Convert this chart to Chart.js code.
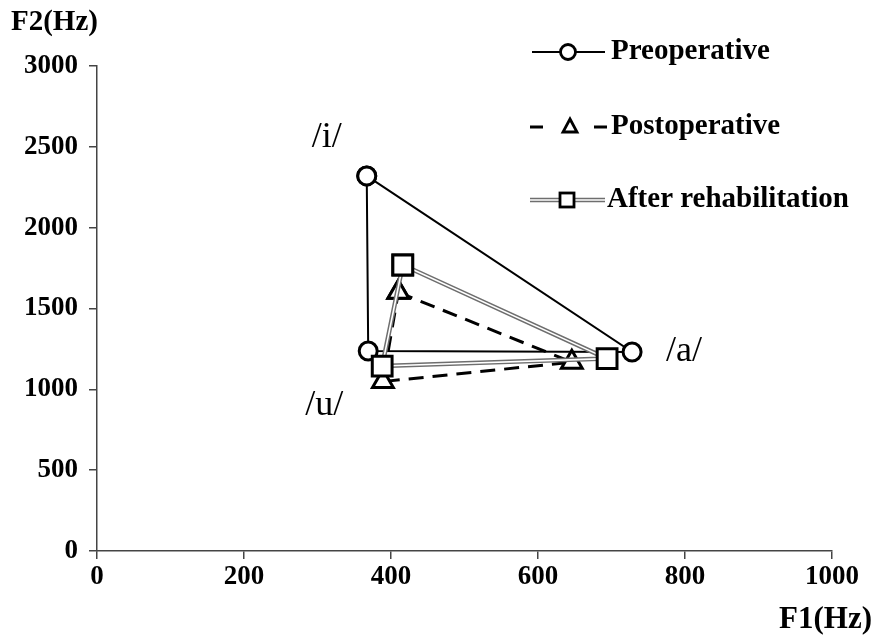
<!DOCTYPE html>
<html lang="en">
<head>
    <meta charset="UTF-8">
    <title>Vowel triangle F1/F2</title>
    <script src="https://cdn.jsdelivr.net/npm/chart.js"></script>
    <style>
        body { margin: 0; background: #fff; }
        #wrap { width: 877px; height: 644px; position: relative; }
    </style>
</head>
<body>
    <div id="wrap"><canvas id="vowelChart"></canvas></div>

    <script>
        // vowel order: /i/, /a/, /u/
        const vowels = ['/i/', '/a/', '/u/'];
        const preF1 = [367, 728, 369];
        const preF2 = [2320, 1231, 1237];
        const postF1 = [410, 646, 389];
        const postF2 = [1600, 1168, 1048];
        const rehabF1 = [416, 694, 388];
        const rehabF2 = [1769, 1190, 1144];
        const xTicks = [0, 200, 400, 600, 800, 1000];
        const yTicks = [0, 500, 1000, 1500, 2000, 2500, 3000];

        const serif = '"Liberation Serif", "Times New Roman", serif';

        // closed triangle i -> a -> u -> i
        function tri(f1, f2) {
            let pts = f1.map((x, i) => ({ x: x, y: f2[i] }));
            pts.push(pts[0]);
            return pts;
        }

        const doubleLine = {
            id: 'doubleLine',
            beforeDatasetDraw(chart, args) {
                if (chart.data.datasets[args.index].label !== 'After rehabilitation') return;
                let pts = args.meta.data;
                let ctx = chart.ctx;
                ctx.save();
                ctx.lineJoin = 'round';
                [['#6e6e6e', 4.5], ['#ffffff', 1.6]].forEach(([c, w]) => {
                    ctx.beginPath();
                    pts.forEach((p, i) => i ? ctx.lineTo(p.x, p.y) : ctx.moveTo(p.x, p.y));
                    ctx.strokeStyle = c;
                    ctx.lineWidth = w;
                    ctx.stroke();
                });
                ctx.restore();
            }
        };

        const extras = {
            id: 'extras',
            afterDraw(chart) {
                let ctx = chart.ctx;
                let xs = chart.scales.x, ys = chart.scales.y;
                ctx.save();
                ctx.fillStyle = '#000';

                // axis titles
                ctx.textBaseline = 'middle';
                ctx.textAlign = 'left';
                ctx.font = 'bold 29px ' + serif;
                ctx.fillText('F2(Hz)', 11, 23);
                ctx.textAlign = 'right';
                ctx.font = 'bold 31px ' + serif;
                ctx.fillText('F1(Hz)', 872, 620);

                // vowel labels next to the preoperative points
                let offs = [[-40, -38], [52, 0], [-44, 55]];
                ctx.font = '36px ' + serif;
                ctx.textAlign = 'center';
                vowels.forEach((v, i) => {
                    ctx.fillText(v, xs.getPixelForValue(preF1[i]) + offs[i][0],
                                    ys.getPixelForValue(preF2[i]) + offs[i][1]);
                });

                // legend
                ctx.strokeStyle = '#000';
                // preoperative
                ctx.lineWidth = 2;
                ctx.beginPath(); ctx.moveTo(532, 52); ctx.lineTo(605, 52); ctx.stroke();
                ctx.beginPath(); ctx.arc(568, 52, 7.5, 0, Math.PI * 2);
                ctx.fillStyle = '#fff'; ctx.fill();
                ctx.lineWidth = 2.8; ctx.stroke();
                // postoperative
                ctx.lineWidth = 3;
                ctx.beginPath(); ctx.moveTo(530, 127); ctx.lineTo(543, 127);
                ctx.moveTo(594, 127); ctx.lineTo(607, 127); ctx.stroke();
                ctx.beginPath();
                ctx.moveTo(570, 119); ctx.lineTo(577, 132); ctx.lineTo(563, 132); ctx.closePath();
                ctx.fillStyle = '#fff'; ctx.fill();
                ctx.lineWidth = 2.8; ctx.stroke();
                // after rehabilitation
                [['#6e6e6e', 4.5], ['#ffffff', 1.6]].forEach(([c, w]) => {
                    ctx.beginPath(); ctx.moveTo(530, 200); ctx.lineTo(605, 200);
                    ctx.strokeStyle = c; ctx.lineWidth = w; ctx.stroke();
                });
                ctx.strokeStyle = '#000';
                ctx.fillStyle = '#fff';
                ctx.fillRect(560, 193, 14, 14);
                ctx.lineWidth = 2.8; ctx.strokeRect(560, 193, 14, 14);

                ctx.fillStyle = '#000';
                ctx.font = 'bold 29px ' + serif;
                ctx.textAlign = 'left';
                ctx.fillText('Preoperative', 611, 52);
                ctx.fillText('Postoperative', 611, 127);
                ctx.fillText('After rehabilitation', 607, 200);
                ctx.restore();
            }
        };

        const tickFont = { family: serif, weight: 'bold', size: 27 };

        new Chart(document.getElementById('vowelChart'), {
            type: 'scatter',
            data: {
                datasets: [
                    {
                        label: 'After rehabilitation', data: tri(rehabF1, rehabF2), order: 0,
                        showLine: false, pointStyle: 'rect', pointRadius: 14, pointHoverRadius: 14,
                        pointBackgroundColor: '#fff', pointBorderColor: '#000', pointBorderWidth: 3
                    },
                    {
                        label: 'Postoperative', data: tri(postF1, postF2), order: 1,
                        showLine: true, borderColor: '#000', borderWidth: 3, borderDash: [15, 9],
                        pointStyle: 'triangle', pointRadius: 12, pointHoverRadius: 12,
                        pointBackgroundColor: '#fff', pointBorderColor: '#000', pointBorderWidth: 3
                    },
                    {
                        label: 'Preoperative', data: tri(preF1, preF2), order: 2,
                        showLine: true, borderColor: '#000', borderWidth: 2,
                        pointStyle: 'circle', pointRadius: 9, pointHoverRadius: 9,
                        pointBackgroundColor: '#fff', pointBorderColor: '#000', pointBorderWidth: 3
                    }
                ]
            },
            options: {
                responsive: true,
                maintainAspectRatio: false,
                animation: false,
                layout: { padding: { top: 66, right: 45, left: 0, bottom: 0 } },
                plugins: { legend: { display: false }, tooltip: { enabled: false } },
                scales: {
                    x: {
                        type: 'linear', min: 0, max: 1000,
                        afterFit: s => { s.height = 93; },
                        afterBuildTicks: s => { s.ticks = xTicks.map(v => ({ value: v })); },
                        grid: { drawOnChartArea: false, tickLength: 8, color: '#444', lineWidth: 1.5 },
                        border: { color: '#444', width: 1.5 },
                        ticks: { padding: 2, color: '#000', font: tickFont, callback: v => String(v) }
                    },
                    y: {
                        type: 'linear', min: 0, max: 3000,
                        afterFit: s => { s.width = 97; },
                        afterBuildTicks: s => { s.ticks = yTicks.map(v => ({ value: v })); },
                        grid: { drawOnChartArea: false, tickLength: 8, color: '#444', lineWidth: 1.5 },
                        border: { color: '#444', width: 1.5 },
                        ticks: { padding: 11, color: '#000', font: tickFont, callback: v => String(v) }
                    }
                }
            },
            plugins: [doubleLine, extras]
        });
    </script>
</body>
</html>
